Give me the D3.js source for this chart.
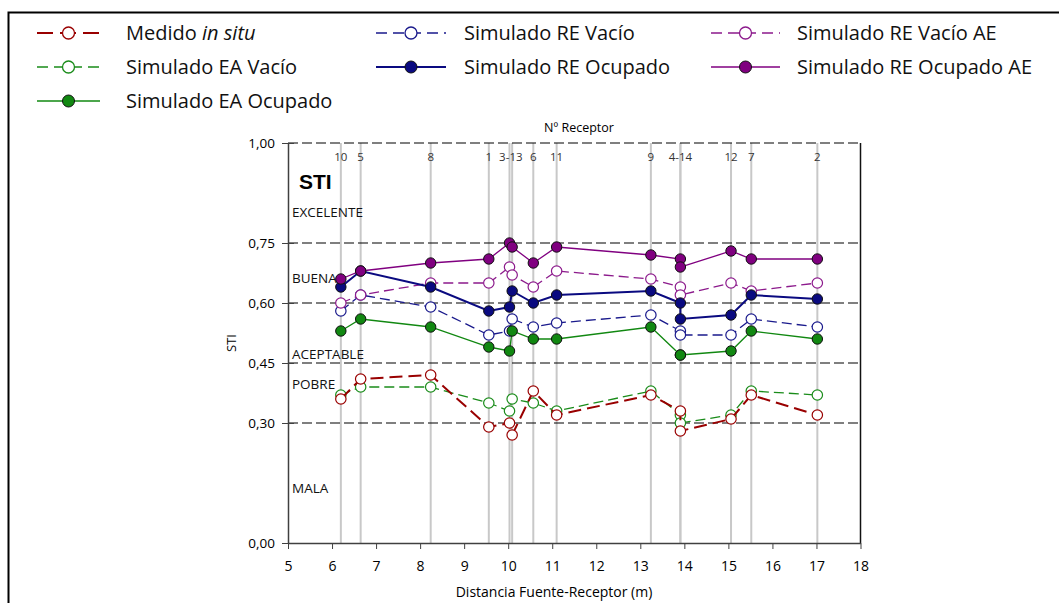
<!DOCTYPE html>
<html>
<head>
<meta charset="utf-8">
<script src="https://cdn.jsdelivr.net/npm/d3@7"></script>
<style>
  body { margin: 0; background: #fff; }
  svg { display: block; font-family: "Open Sans", "Noto Sans", sans-serif; }
</style>
</head>
<body>
<svg id="chart" width="1059" height="603"></svg>
<script>
// distancias fuente-receptor (m) y nº de receptor en cada posicion
const distancias = [6.20, 6.65, 8.24, 9.56, 10.03, 10.09, 10.57, 11.10, 13.24, 13.91, 13.91, 15.06, 15.52, 17.02];
const receptores = ["10", "5", "8", "1", "3", "13", "6", "11", "9", "4", "14", "12", "7", "2"];

// valores de STI por serie (mismo orden que distancias)
const medido      = [0.36, 0.41, 0.42, 0.29, 0.30, 0.27, 0.38, 0.32, 0.37, 0.33, 0.28, 0.31, 0.37, 0.32];
const eaVacio     = [0.37, 0.39, 0.39, 0.35, 0.33, 0.36, 0.35, 0.33, 0.38, 0.32, 0.30, 0.32, 0.38, 0.37];
const eaOcupado   = [0.53, 0.56, 0.54, 0.49, 0.48, 0.53, 0.51, 0.51, 0.54, 0.47, 0.47, 0.48, 0.53, 0.51];
const reVacio     = [0.58, 0.62, 0.59, 0.52, 0.53, 0.56, 0.54, 0.55, 0.57, 0.53, 0.52, 0.52, 0.56, 0.54];
const reOcupado   = [0.64, 0.68, 0.64, 0.58, 0.59, 0.63, 0.60, 0.62, 0.63, 0.60, 0.56, 0.57, 0.62, 0.61];
const reVacioAE   = [0.60, 0.62, 0.65, 0.65, 0.69, 0.67, 0.64, 0.68, 0.66, 0.64, 0.62, 0.65, 0.63, 0.65];
const reOcupadoAE = [0.66, 0.68, 0.70, 0.71, 0.75, 0.74, 0.70, 0.74, 0.72, 0.71, 0.69, 0.73, 0.71, 0.71];

// ticks y bandas de valoracion
const yTicks = [0, 0.30, 0.45, 0.60, 0.75, 1.00];
const xTicks = [5, 6, 7, 8, 9, 10, 11, 12, 13, 14, 15, 16, 17, 18];
const bandas = ["EXCELENTE", "BUENA", "ACEPTABLE", "POBRE", "MALA"];
const bandaValor = [0.8275, 0.6625, 0.4725, 0.3975, 0.1375];

// series, en el orden de la leyenda (por filas)
const series = [
  { name: "Medido", it: " in situ", data: medido, color: "#990000", dash: "13,6", w: 2, filled: false },
  { name: "Simulado RE Vacío", data: reVacio, color: "#1a1a8c", dash: "10,5", w: 1.3, filled: false },
  { name: "Simulado RE Vacío AE", data: reVacioAE, color: "#8c1a8c", dash: "10,5", w: 1.3, filled: false },
  { name: "Simulado EA Vacío", data: eaVacio, color: "#1a8c1a", dash: "10,5", w: 1.3, filled: false },
  { name: "Simulado RE Ocupado", data: reOcupado, color: "#0a0a80", dash: null, w: 2, filled: true },
  { name: "Simulado RE Ocupado AE", data: reOcupadoAE, color: "#800080", dash: null, w: 1.3, filled: true },
  { name: "Simulado EA Ocupado", data: eaOcupado, color: "#118811", dash: null, w: 1.3, filled: true }
];

const svg = d3.select("#chart");
const pLeft = 288, pRight = 860.5, pTop = 143, pBottom = 543;

const x = d3.scaleLinear().domain([5, 18]).range([pLeft, pRight]);
const y = d3.scaleLinear().domain([0, 1]).range([pBottom, pTop]);

// marco exterior
svg.append("path")
  .attr("d", "M8.5,603 V12.5 H1059")
  .attr("fill", "none").attr("stroke", "#000").attr("stroke-width", 2);

// lineas verticales de receptores
svg.append("g").selectAll("line").data(distancias).join("line")
  .attr("x1", d => x(d)).attr("x2", d => x(d))
  .attr("y1", pTop).attr("y2", pBottom)
  .attr("stroke", "#c8c8c8").attr("stroke-width", 2);

// lineas de separacion de bandas
svg.append("g").selectAll("line").data(yTicks.filter(d => d > 0)).join("line")
  .attr("x1", pLeft).attr("x2", pRight)
  .attr("y1", d => y(d)).attr("y2", d => y(d))
  .attr("stroke", "#000").attr("stroke-width", 1.1)
  .attr("stroke-dasharray", "10,4");

// borde derecho
svg.append("line")
  .attr("x1", pRight).attr("x2", pRight).attr("y1", pTop).attr("y2", pBottom)
  .attr("stroke", "#111").attr("stroke-width", 1.5);

// ejes
const yAxis = d3.axisLeft(y).tickValues(yTicks)
  .tickFormat(d => d3.format(".2f")(d).replace(".", ","))
  .tickSizeInner(6).tickSizeOuter(0).tickPadding(7);
const gy = svg.append("g").attr("transform", `translate(${pLeft},0)`).call(yAxis);
gy.select(".domain").attr("stroke", "#404040").attr("stroke-width", 1.5);
gy.selectAll(".tick line").attr("stroke", "#404040").attr("x2", 6).attr("x1", -6);
gy.selectAll("text").attr("font-size", 13.5).attr("fill", "#000")
  .attr("font-family", "Open Sans");

const xAxis = d3.axisBottom(x).tickValues(xTicks).tickSizeInner(6).tickSizeOuter(0).tickPadding(12);
const gx = svg.append("g").attr("transform", `translate(0,${pBottom})`).call(xAxis);
gx.select(".domain").attr("stroke", "#404040").attr("stroke-width", 1.5);
gx.selectAll(".tick line").attr("stroke", "#404040");
gx.selectAll("text").attr("font-size", 14).attr("fill", "#000")
  .attr("font-family", "Open Sans");

// titulos de ejes
svg.append("text")
  .attr("x", 554).attr("y", 597).attr("text-anchor", "middle")
  .attr("font-size", 14).text("Distancia Fuente-Receptor (m)");
svg.append("text")
  .attr("transform", `translate(236,${y(0.5)}) rotate(-90)`)
  .attr("text-anchor", "middle").attr("font-size", 13).text("STI");
svg.append("text")
  .attr("x", 579).attr("y", 132).attr("text-anchor", "middle")
  .attr("font-size", 12.5).text("Nº Receptor");

// etiquetas de receptores (los muy cercanos se agrupan "3-13")
const grupos = [];
distancias.forEach((d, i) => {
  const last = grupos[grupos.length - 1];
  if (last && d - last.xs[last.xs.length - 1] < 0.1) {
    last.xs.push(d); last.nums.push(receptores[i]);
  } else {
    grupos.push({ xs: [d], nums: [receptores[i]] });
  }
});
svg.append("g").selectAll("text").data(grupos).join("text")
  .attr("x", d => x(d3.mean(d.xs)))
  .attr("y", 161)
  .attr("text-anchor", "middle")
  .attr("font-size", 11.5).attr("fill", "#333")
  .text(d => d.nums.join("-"));

// bandas
svg.append("text").attr("x", 299).attr("y", 189)
  .attr("font-family", "Liberation Sans, Arial, sans-serif")
  .attr("font-weight", "bold").attr("font-size", 21).text("STI");
svg.append("g").selectAll("text").data(bandas).join("text")
  .attr("x", 292)
  .attr("y", (d, i) => y(bandaValor[i]) + 5)
  .attr("font-size", 13.5).attr("fill", "#111")
  .text(d => d);

// series
const line = d3.line().x(d => x(d[0])).y(d => y(d[1]));
const pts = s => distancias.map((d, i) => [d, s.data[i]]);

const gs = svg.append("g");
// primero las vacias, luego las ocupadas encima
[3, 0, 1, 2, 6, 4, 5].forEach(k => {
  const s = series[k];
  gs.append("path")
    .attr("d", line(pts(s)))
    .attr("fill", "none")
    .attr("stroke", s.color)
    .attr("stroke-width", s.w)
    .attr("stroke-dasharray", s.dash);
  gs.append("g").selectAll("circle").data(pts(s)).join("circle")
    .attr("cx", d => x(d[0])).attr("cy", d => y(d[1]))
    .attr("r", 5.2)
    .attr("fill", s.filled ? s.color : "#fff")
    .attr("stroke", s.filled ? "#111" : s.color)
    .attr("stroke-width", s.filled ? 1 : 1.2);
});

// leyenda
const legCols = [{ sx: 37, ex: 100, tx: 126 }, { sx: 376, ex: 446, tx: 464 }, { sx: 711, ex: 780, tx: 797 }];
const legRows = [33, 67, 101];
const leg = svg.append("g");
series.forEach((s, i) => {
  const c = legCols[i % 3], ry = legRows[Math.floor(i / 3)];
  const g = leg.append("g");
  g.append("line")
    .attr("x1", c.sx).attr("x2", c.ex).attr("y1", ry).attr("y2", ry)
    .attr("stroke", s.color).attr("stroke-width", s.w)
    .attr("stroke-dasharray", s.dash ? (i === 0 ? "16,7" : "11,6") : null);
  g.append("circle")
    .attr("cx", (c.sx + c.ex) / 2).attr("cy", ry).attr("r", 6)
    .attr("fill", s.filled ? s.color : "#fff")
    .attr("stroke", s.filled ? "#111" : s.color)
    .attr("stroke-width", s.filled ? 1 : 1.3);
  const t = g.append("text")
    .attr("x", c.tx).attr("y", ry + 7)
    .attr("font-size", 20).attr("fill", "#111")
    .text(s.name);
  if (s.it) t.append("tspan").attr("font-style", "italic").text(s.it);
});
</script>
</body>
</html>
